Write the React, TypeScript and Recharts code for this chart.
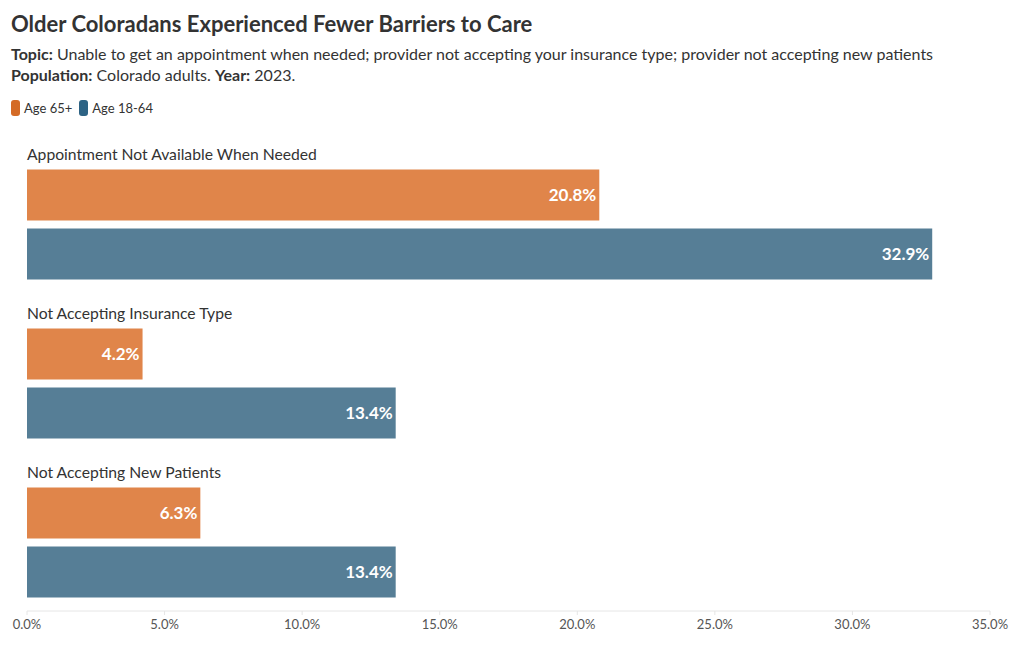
import { BarChart, Bar, XAxis, YAxis, LabelList } from 'recharts';

const categories = ['Appointment Not Available When Needed', 'Not Accepting Insurance Type', 'Not Accepting New Patients'];
const age65Plus = [20.8, 4.2, 6.3];
const age18to64 = [32.9, 13.4, 13.4];
const xTicks = [0, 5, 10, 15, 20, 25, 30, 35];

const FONT = 'Lato, "Open Sans", sans-serif';
const BAR_ORANGE = '#e0854a';
const BAR_BLUE = '#567e96';
const KEY_ORANGE = '#d46b26';
const KEY_BLUE = '#2d6384';

const data = categories.map((name, i) => ({ name, older: age65Plus[i], younger: age18to64[i] }));

// category title drawn above each bar pair
const CategoryTick = ({ y, payload }: any) => (
  <text x={27} y={y - 70} dy={6} textAnchor="start" fill="#333" fontSize={15.7} fontFamily={FONT}>
    {payload.value}
  </text>
);

const ValueLabel = ({ x, y, width, height, value }: any) => (
  <text
    x={x + width - 3}
    y={y + height / 2}
    dy={6}
    textAnchor="end"
    fill="#fff"
    fontSize={17}
    fontWeight={700}
    fontFamily={FONT}
  >
    {value.toFixed(1)}%
  </text>
);

function LegendKey({ color, label }: { color: string; label: string }) {
  return (
    <span style={{ display: 'inline-flex', alignItems: 'center', marginRight: 7 }}>
      <span style={{ width: 9, height: 16, borderRadius: 3, background: color, marginRight: 4 }} />
      {label}
    </span>
  );
}

export default function App() {
  return (
    <div style={{ position: 'absolute', left: 0, top: 0, width: 1020, height: 650, background: '#fff', fontFamily: FONT, color: '#333' }}>
      <div style={{ position: 'absolute', left: 11, top: 9, fontSize: 22, fontWeight: 700, lineHeight: '30px' }}>
        Older Coloradans Experienced Fewer Barriers to Care
      </div>
      <div style={{ position: 'absolute', left: 11, top: 43, fontSize: 16, lineHeight: '21px' }}>
        <div><b>Topic:</b> Unable to get an appointment when needed; provider not accepting your insurance type; provider not accepting new patients</div>
        <div><b>Population:</b> Colorado adults. <b>Year:</b> 2023.</div>
      </div>
      <div style={{ position: 'absolute', left: 11, top: 99, fontSize: 13, display: 'flex', lineHeight: '18px' }}>
        <LegendKey color={KEY_ORANGE} label="Age 65+" />
        <LegendKey color={KEY_BLUE} label="Age 18-64" />
      </div>
      <div style={{ position: 'absolute', left: 0, top: 0 }}>
        <BarChart
          width={1020}
          height={650}
          data={data}
          layout="vertical"
          margin={{ top: 134, right: 30, bottom: 0, left: 0 }}
          barSize={51}
          barGap={8}
        >
          <XAxis
            type="number"
            domain={[0, 35]}
            ticks={xTicks}
            tickFormatter={(v: number) => `${v.toFixed(1)}%`}
            axisLine={{ stroke: '#e6e6e6' }}
            tickLine={{ stroke: '#e6e6e6' }}
            tickSize={4}
            tick={{ fill: '#555', fontSize: 13, fontFamily: FONT, dy: 3 }}
            height={39}
          />
          <YAxis
            type="category"
            dataKey="name"
            width={27}
            axisLine={false}
            tickLine={false}
            interval={0}
            tick={<CategoryTick />}
            padding={{ top: 10.5, bottom: -10.5 }}
          />
          <Bar dataKey="older" name="Age 65+" fill={BAR_ORANGE} isAnimationActive={false}>
            <LabelList dataKey="older" content={<ValueLabel />} />
          </Bar>
          <Bar dataKey="younger" name="Age 18-64" fill={BAR_BLUE} isAnimationActive={false}>
            <LabelList dataKey="younger" content={<ValueLabel />} />
          </Bar>
        </BarChart>
      </div>
    </div>
  );
}
